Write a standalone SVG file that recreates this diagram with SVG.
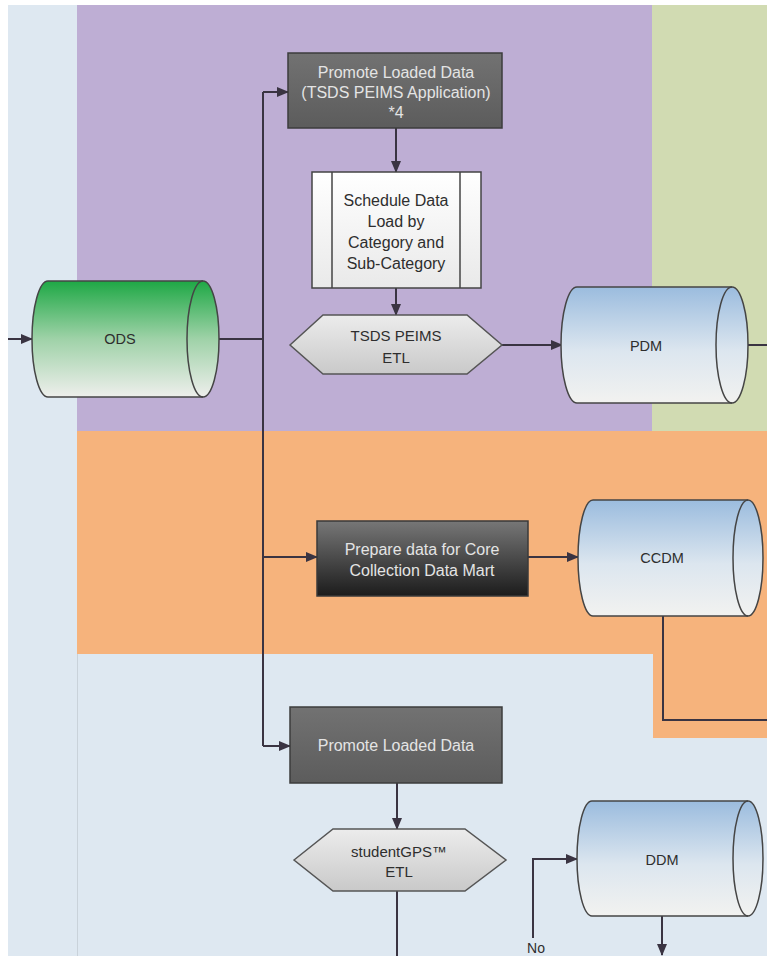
<svg xmlns="http://www.w3.org/2000/svg" width="767" height="956" viewBox="0 0 767 956">
<style>
.lbl{font-family:"Liberation Sans",Arial,sans-serif;font-size:16px;text-anchor:middle;dominant-baseline:central}
.hx{font-size:15px}
.cy{font-size:14.5px}
.lt{fill:#e4e4e4}
.dk{fill:#2e2e2e}
.cyl{stroke:#454545;stroke-width:1.5}
.con{fill:none;stroke:#3a3442;stroke-width:2}
</style>
<defs>
<linearGradient id="gBlue" x1="0" y1="0" x2="0" y2="1"><stop offset="0" stop-color="#9bbcde"/><stop offset="0.55" stop-color="#dce6ef"/><stop offset="1" stop-color="#f2f2f0"/></linearGradient>
<linearGradient id="gGreen" x1="0" y1="0" x2="0" y2="1"><stop offset="0" stop-color="#1ea845"/><stop offset="0.5" stop-color="#9fd2a8"/><stop offset="1" stop-color="#eeefec"/></linearGradient>
<linearGradient id="gGray" x1="0" y1="0" x2="0" y2="1"><stop offset="0" stop-color="#727272"/><stop offset="1" stop-color="#5c5c5c"/></linearGradient>
<linearGradient id="gDark" x1="0" y1="0" x2="0" y2="1"><stop offset="0" stop-color="#777"/><stop offset="1" stop-color="#1c1c1c"/></linearGradient>
<linearGradient id="gHex" x1="0" y1="0" x2="0" y2="1"><stop offset="0" stop-color="#ececec"/><stop offset="1" stop-color="#c9c9c9"/></linearGradient>
<linearGradient id="gWhite" x1="0" y1="0" x2="0" y2="1"><stop offset="0" stop-color="#ffffff"/><stop offset="1" stop-color="#e9e9e9"/></linearGradient>
<marker id="arr" markerUnits="userSpaceOnUse" markerWidth="12" markerHeight="10" refX="11" refY="5" orient="auto"><path d="M0,0 L12,5 L0,10 Z" fill="#3a3442"/></marker>
</defs>

<g id="lanes">
<rect x="0" y="0" width="767" height="956" fill="#ffffff"/>
<rect x="8" y="5" width="759" height="951" fill="#dee8f1"/>
<rect x="77" y="5" width="575" height="426" fill="#beaed4"/>
<rect x="652" y="5" width="115" height="426" fill="#d1dbb2"/>
<rect x="77" y="431" width="690" height="223" fill="#f6b37c"/>
<rect x="653" y="654" width="114" height="84" fill="#f6b37c"/>
<line x1="77.5" y1="654" x2="77.5" y2="956" stroke="#c9d2da" stroke-width="1"/>
</g>

<g id="connectors">
<path class="con" d="M8,339 L32,339" marker-end="url(#arr)"/>
<path class="con" d="M198,339 L263,339"/>
<path class="con" d="M263,92 L263,746"/>
<path class="con" d="M263,92 L288,92" marker-end="url(#arr)"/>
<path class="con" d="M263,557 L317,557" marker-end="url(#arr)"/>
<path class="con" d="M263,746 L290,746" marker-end="url(#arr)"/>
<path class="con" d="M396,128 L396,172" marker-end="url(#arr)"/>
<path class="con" d="M396,288 L396,315" marker-end="url(#arr)"/>
<path class="con" d="M502,345 L562,345" marker-end="url(#arr)"/>
<path class="con" d="M732,345 L767,345"/>
<path class="con" d="M528,557 L578,557" marker-end="url(#arr)"/>
<path class="con" d="M663,616 L663,720 L767,720"/>
<path class="con" d="M397,783 L397,829" marker-end="url(#arr)"/>
<path class="con" d="M397,891 L397,956"/>
<path class="con" d="M533,938 L533,859 L577,859" marker-end="url(#arr)"/>
<path class="con" d="M662,916 L662,955" marker-end="url(#arr)"/>
<text class="lbl dk" x="536" y="948" style="font-size:14px">No</text>
</g>

<g id="ods">
<path class="cyl" fill="url(#gGreen)" d="M48,281 L203,281 A16,58 0 0 1 203,397 L48,397 A16,58 0 0 1 48,281 Z"/>
<path class="cyl" fill="none" d="M203,281 A16,58 0 0 0 203,397"/>
<text class="lbl cy dk" x="120" y="339">ODS</text>
</g>

<g id="promote-peims">
<rect x="288" y="53" width="214" height="75" fill="url(#gGray)" stroke="#3c3c3c" stroke-width="1.5"/>
<text class="lbl lt" x="396" y="72">Promote Loaded Data</text>
<text class="lbl lt" x="396" y="92">(TSDS PEIMS Application)</text>
<text class="lbl lt" x="396" y="112">*4</text>
</g>

<g id="schedule">
<rect x="312" y="172" width="169" height="116" fill="url(#gWhite)" stroke="#444" stroke-width="1.5"/>
<line x1="332" y1="172" x2="332" y2="288" stroke="#444" stroke-width="1.5"/>
<line x1="460" y1="172" x2="460" y2="288" stroke="#444" stroke-width="1.5"/>
<text class="lbl dk" x="396" y="200">Schedule Data</text>
<text class="lbl dk" x="396" y="221">Load by</text>
<text class="lbl dk" x="396" y="242">Category and</text>
<text class="lbl dk" x="396" y="263">Sub-Category</text>
</g>

<g id="tsds-etl">
<polygon points="290,345 323,315 467,315 502,345 467,374 323,374" fill="url(#gHex)" stroke="#555" stroke-width="1.5"/>
<text class="lbl hx dk" x="396" y="335">TSDS PEIMS</text>
<text class="lbl hx dk" x="396" y="357">ETL</text>
</g>

<g id="pdm">
<path class="cyl" fill="url(#gBlue)" d="M577,287 L732,287 A16,58 0 0 1 732,403 L577,403 A16,58 0 0 1 577,287 Z"/>
<path class="cyl" fill="none" d="M732,287 A16,58 0 0 0 732,403"/>
<text class="lbl cy dk" x="646" y="346">PDM</text>
</g>

<g id="prepare">
<rect x="317" y="521" width="211" height="75" fill="url(#gDark)" stroke="#3a3a3a" stroke-width="1.5"/>
<text class="lbl lt" x="422" y="549">Prepare data for Core</text>
<text class="lbl lt" x="422" y="570">Collection Data Mart</text>
</g>

<g id="ccdm">
<path class="cyl" fill="url(#gBlue)" d="M593,500 L748,500 A15,58 0 0 1 748,616 L593,616 A15,58 0 0 1 593,500 Z"/>
<path class="cyl" fill="none" d="M748,500 A15,58 0 0 0 748,616"/>
<text class="lbl cy dk" x="662" y="558">CCDM</text>
</g>

<g id="promote">
<rect x="290" y="707" width="212" height="76" fill="url(#gGray)" stroke="#3c3c3c" stroke-width="1.5"/>
<text class="lbl lt" x="396" y="745">Promote Loaded Data</text>
</g>

<g id="studentgps-etl">
<polygon points="294,860 333,829 465,829 506,860 465,891 333,891" fill="url(#gHex)" stroke="#555" stroke-width="1.5"/>
<text class="lbl hx dk" x="399" y="851">studentGPS™</text>
<text class="lbl hx dk" x="399" y="871">ETL</text>
</g>

<g id="ddm">
<path class="cyl" fill="url(#gBlue)" d="M592,801 L748,801 A15,57.5 0 0 1 748,916 L592,916 A15,57.5 0 0 1 592,801 Z"/>
<path class="cyl" fill="none" d="M748,801 A15,57.5 0 0 0 748,916"/>
<text class="lbl cy dk" x="662" y="860">DDM</text>
</g>
</svg>
